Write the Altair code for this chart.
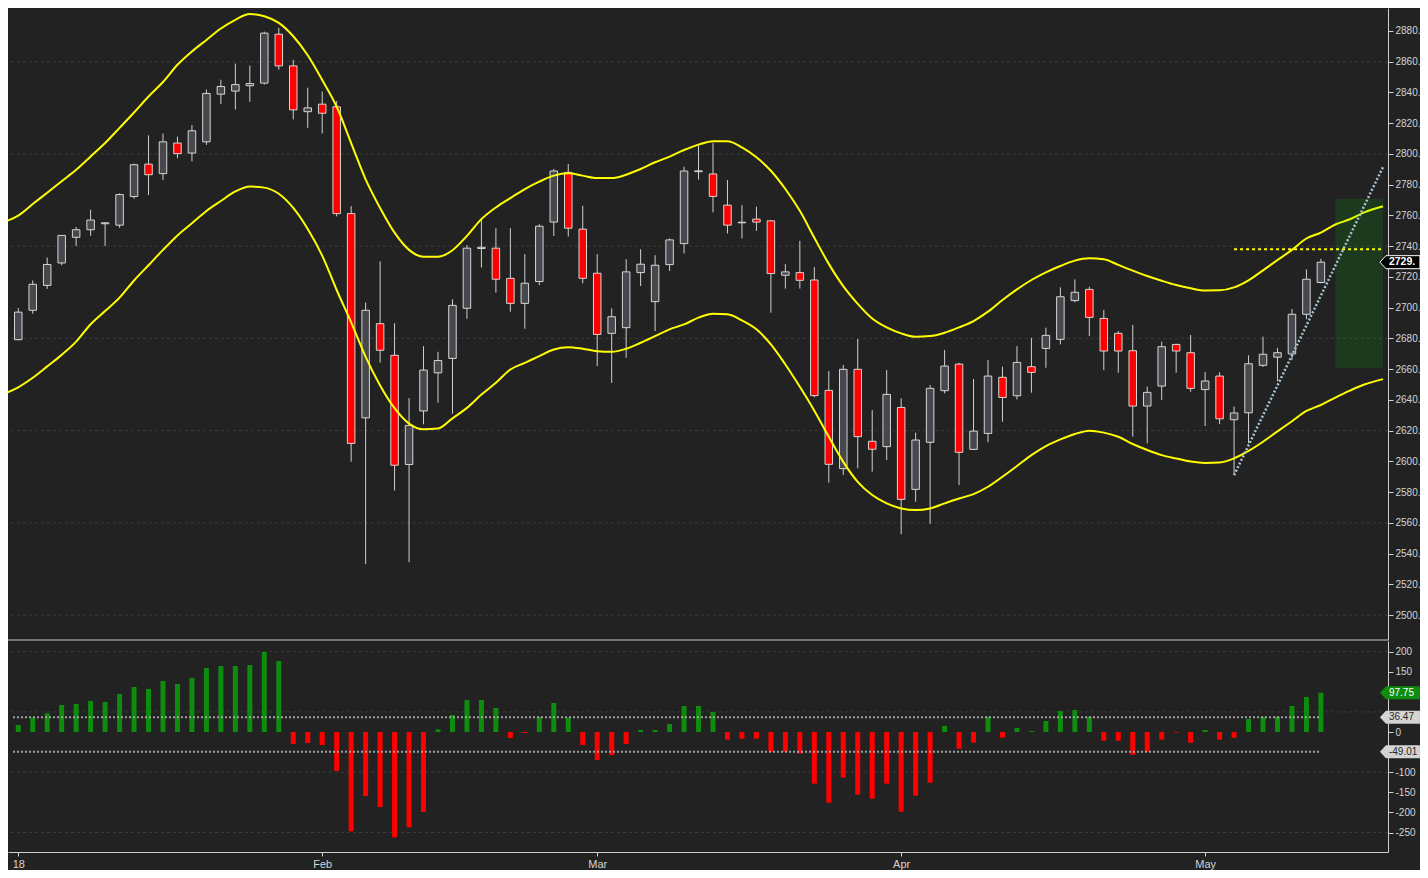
import altair as alt
import pandas as pd

# ---------------- data ----------------
idx = list(range(92))
opens = [2689.2, 2679.2, 2698.3, 2714.5, 2729.1, 2745.8, 2750.7, 2754.6, 2753.7, 2772.3,
         2793.4, 2787.2, 2807.1, 2800.6, 2807.9, 2838.9, 2840.9, 2844.4, 2846.1, 2877.9,
         2857.3, 2827.5, 2832.4, 2830.7, 2761.2, 2628.3, 2689.6, 2669.0, 2598.0, 2632.8,
         2657.6, 2667.0, 2699.6, 2738.5, 2738.7, 2719.1, 2702.8, 2717.0, 2755.7, 2788.0,
         2751.1, 2722.4, 2683.3, 2687.0, 2722.8, 2703.9, 2728.0, 2741.7, 2788.5, 2787.0,
         2766.7, 2755.2, 2757.6, 2756.5, 2721.1, 2722.8, 2718.0, 2646.2, 2595.3, 2659.9,
         2613.1, 2609.6, 2635.1, 2581.8, 2612.4, 2646.0, 2663.3, 2607.8, 2618.2, 2654.7,
         2642.7, 2661.6, 2673.5, 2679.4, 2704.6, 2711.9, 2693.0, 2683.3, 2672.0, 2636.0,
         2649.0, 2676.1, 2670.7, 2646.7, 2655.5, 2627.1, 2631.6, 2662.5, 2667.8, 2669.9,
         2695.7, 2716.4]
highs = [2692.0, 2699.8, 2717.7, 2732.6, 2747.0, 2752.5, 2763.7, 2755.5, 2774.3, 2793.7,
         2812.1, 2813.3, 2811.3, 2818.8, 2841.9, 2848.3, 2858.8, 2857.5, 2879.6, 2882.1,
         2861.2, 2843.1, 2840.6, 2834.4, 2766.1, 2703.3, 2730.1, 2689.9, 2641.2, 2675.0,
         2671.3, 2705.4, 2740.7, 2758.0, 2751.7, 2751.7, 2734.8, 2754.3, 2790.2, 2793.5,
         2766.3, 2734.8, 2699.6, 2731.5, 2738.0, 2734.1, 2745.0, 2791.7, 2805.4, 2807.0,
         2783.0, 2766.7, 2765.7, 2757.0, 2728.3, 2743.5, 2726.4, 2658.8, 2662.7, 2679.6,
         2633.4, 2659.4, 2641.0, 2618.7, 2649.7, 2672.4, 2664.2, 2653.6, 2665.9, 2661.6,
         2675.0, 2680.4, 2687.0, 2713.2, 2718.4, 2713.6, 2698.5, 2684.8, 2688.7, 2648.6,
         2677.9, 2676.5, 2682.2, 2658.2, 2658.0, 2635.7, 2669.0, 2681.1, 2673.9, 2699.1,
         2724.9, 2731.8]
lows = [2678.0, 2678.7, 2696.1, 2712.2, 2727.6, 2740.1, 2746.8, 2740.1, 2752.0, 2770.9,
        2773.3, 2783.0, 2797.2, 2795.2, 2805.9, 2832.4, 2829.0, 2833.9, 2845.1, 2854.8,
        2822.5, 2817.0, 2813.3, 2759.4, 2599.8, 2533.2, 2664.3, 2581.1, 2534.4, 2624.1,
        2638.2, 2631.0, 2692.8, 2726.1, 2709.8, 2697.4, 2686.3, 2714.6, 2746.7, 2746.3,
        2715.9, 2662.0, 2651.1, 2667.4, 2714.1, 2684.8, 2723.9, 2735.2, 2783.3, 2762.0,
        2748.3, 2745.0, 2750.0, 2696.7, 2712.4, 2712.4, 2641.7, 2586.2, 2591.2, 2595.5,
        2593.3, 2600.9, 2552.6, 2573.8, 2559.4, 2644.3, 2584.6, 2607.8, 2612.4, 2625.8,
        2640.3, 2644.7, 2660.9, 2676.1, 2703.5, 2681.5, 2659.4, 2657.7, 2616.1, 2611.7,
        2640.0, 2657.7, 2645.3, 2623.0, 2624.3, 2591.2, 2611.8, 2661.4, 2652.1, 2665.9,
        2692.5, 2715.8]
closes = [2680.0, 2697.1, 2715.2, 2728.1, 2747.0, 2750.7, 2757.0, 2755.2, 2773.6, 2793.0,
          2786.5, 2807.9, 2800.2, 2815.1, 2839.4, 2843.9, 2845.1, 2845.8, 2878.6, 2857.3,
          2828.7, 2830.0, 2826.5, 2761.2, 2611.7, 2698.3, 2672.3, 2597.5, 2623.4, 2659.4,
          2665.6, 2701.5, 2738.7, 2739.3, 2718.5, 2702.8, 2715.9, 2753.0, 2788.9, 2751.7,
          2719.1, 2682.6, 2694.1, 2723.3, 2728.3, 2727.6, 2744.1, 2788.9, 2789.0, 2772.4,
          2753.7, 2755.6, 2755.7, 2722.2, 2723.3, 2717.8, 2642.8, 2598.1, 2659.9, 2616.1,
          2607.9, 2643.6, 2575.3, 2613.9, 2647.5, 2662.0, 2605.9, 2619.7, 2655.5, 2641.6,
          2664.4, 2657.9, 2682.0, 2707.1, 2710.0, 2693.7, 2671.8, 2671.8, 2636.0, 2644.9,
          2674.6, 2671.8, 2647.5, 2652.3, 2627.7, 2631.5, 2663.5, 2669.7, 2670.7, 2695.7,
          2718.5, 2729.6]
hist = [-11.6, 17.4, 35.7, 46.4, 67.2, 69.7, 77.1, 74.6, 94.5, 111.9,
        107.0, 126.9, 119.4, 134.3, 159.2, 164.2, 164.2, 166.7, 199.0, 176.6,
        -29.9, -27.4, -32.3, -97.0, -247.1, -159.2, -186.6, -262.0, -237.1, -199.0,
        6.6, 42.3, 79.6, 79.6, 59.7, -14.9, -2.5, 38.1, 72.1, 35.7,
        -32.3, -69.7, -57.2, -29.9, 5.0, 5.0, 19.9, 64.7, 64.7, 49.8,
        -19.1, -16.6, -16.6, -48.9, -48.9, -53.9, -128.5, -175.8, -113.6, -155.9,
        -165.8, -128.5, -198.2, -158.4, -126.0, 14.9, -41.5, -26.5, 38.1, -14.1,
        10.0, 2.5, 27.4, 52.2, 54.7, 38.1, -21.6, -21.6, -56.4, -48.9,
        -19.1, -1.7, -26.5, 5.0, -19.1, -14.1, 32.3, 38.1, 38.1, 64.7,
        87.1, 97.75]

band_idx = list(range(95)) + [95.29]
upper = [2755.7, 2759.9, 2767.4, 2774.8, 2782.3, 2789.7, 2798.4, 2807.1, 2817.0, 2827.0,
         2837.4, 2846.8, 2858.0, 2866.7, 2874.2, 2881.6, 2887.3, 2891.0, 2889.6, 2885.3,
         2876.6, 2864.2, 2848.1, 2830.7, 2807.1, 2783.5, 2764.9, 2748.8, 2737.6, 2733.1,
         2733.1, 2737.4, 2746.7, 2757.6, 2765.2, 2771.3, 2777.2, 2782.0, 2785.9, 2787.4,
         2785.9, 2784.3, 2784.3, 2786.5, 2790.2, 2794.6, 2798.3, 2802.6, 2806.1, 2808.3,
         2808.3, 2804.3, 2797.8, 2789.1, 2777.2, 2763.0, 2745.5, 2728.5, 2714.0, 2702.5,
         2693.0, 2687.2, 2683.3, 2681.1, 2681.5, 2683.7, 2687.2, 2691.3, 2697.4, 2705.0,
         2711.9, 2718.0, 2723.0, 2727.1, 2730.6, 2732.1, 2731.5, 2727.8, 2724.1, 2720.6,
         2717.5, 2714.7, 2712.6, 2711.2, 2711.3, 2713.2, 2717.8, 2724.3, 2731.0, 2737.6,
         2745.0, 2748.8, 2754.1, 2757.5, 2762.0, 2766.0]
lower = [2644.0, 2648.2, 2654.4, 2661.8, 2669.3, 2677.9, 2689.2, 2697.8, 2706.5, 2717.7,
         2727.6, 2737.6, 2747.0, 2754.9, 2762.9, 2769.4, 2775.6, 2778.8, 2778.1, 2774.1,
         2764.9, 2751.2, 2733.9, 2711.5, 2690.4, 2668.0, 2649.4, 2634.6, 2624.6, 2620.9,
         2621.4, 2628.0, 2634.8, 2643.5, 2651.1, 2659.8, 2664.1, 2668.5, 2672.8, 2674.3,
         2673.3, 2671.7, 2671.3, 2673.3, 2677.2, 2681.5, 2685.9, 2689.1, 2693.5, 2696.1,
         2695.7, 2691.7, 2685.9, 2676.1, 2663.0, 2648.5, 2633.0, 2616.0, 2599.7, 2586.7,
         2578.1, 2572.7, 2569.4, 2568.3, 2569.4, 2572.7, 2575.9, 2578.7, 2583.5, 2590.0,
         2597.0, 2604.1, 2610.0, 2614.3, 2617.8, 2620.0, 2618.7, 2616.0, 2611.3, 2607.4,
         2604.1, 2601.9, 2599.9, 2599.0, 2599.3, 2602.0, 2606.8, 2612.8, 2619.5, 2626.1,
         2632.8, 2636.7, 2641.5, 2646.0, 2650.0, 2653.5]

month_idx = [1, 22, 41, 62, 83]
month_lbl = ["18", "Feb", "Mar", "Apr", "May"]
price_ticks = list(range(2500, 2900, 20))
price_grid = [2500, 2560, 2620, 2680, 2740, 2800, 2860]
hist_ticks = [200, 150, 0, -100, -150, -200, -250]
hist_grid = [200, 50, -100, -250]
hist_levels = [36.47, -49.01]
resist_level = 2738.0
resist_span = [85.0, 95.29]
trend_pts = [(85.0, 2591.0), (95.29, 2791.5)]
proj_box = (92.0, 95.29, 2660.6, 2770.8)
last_price = 2729.6
last_price_txt = "2729."
hist_last = 97.75

# ---------------- scales / styling ----------------
FONT = "Liberation Sans"
AX = "#cfcfcf"
W, H = 1380, 844
X_DOM = [0.637, 95.29]
xs = alt.Scale(domain=X_DOM, nice=False, zero=False)
ys_top = alt.Scale(domain=[2483.8, 2894.96], range=[632, 0], nice=False, zero=False)
ys_bot = alt.Scale(domain=[-298.5, 226.4], range=[844, 633], nice=False, zero=False)

lbl_expr = " : ".join(
    f"datum.value == {v} ? '{t}'" for v, t in zip(month_idx, month_lbl)) + " : ''"
xaxis = alt.Axis(values=month_idx, labelExpr=lbl_expr, title=None, grid=False,
                 domainColor=AX, tickColor=AX, tickSize=4, labelColor="#d4d4d4",
                 labelFont=FONT, labelFontSize=11, labelPadding=2, labelFlush=False)
top_axis = alt.Axis(orient="right", values=price_ticks, labelExpr="datum.value + '.'",
                    title=None, grid=False, domainColor=AX, tickColor=AX, tickSize=5,
                    labelColor="#d4d4d4", labelFont=FONT, labelFontSize=10, labelPadding=2)
bot_axis = alt.Axis(orient="right", values=hist_ticks, labelExpr="'' + datum.value",
                    title=None, grid=False, domainColor=AX, tickColor=AX, tickSize=5,
                    labelColor="#d4d4d4", labelFont=FONT, labelFontSize=10, labelPadding=2)


def X(f):
    # every layer carries the same shared x axis so the merged axis survives
    return alt.X(f, type="quantitative", scale=xs, axis=xaxis)


def YT(f, axis=None):
    return alt.Y(f, type="quantitative", scale=ys_top, axis=axis)


def YB(f, axis=None):
    return alt.Y(f, type="quantitative", scale=ys_bot, axis=axis)


df = pd.DataFrame({"i": idx, "o": opens, "h": highs, "l": lows, "c": closes,
                   "hv": hist, "z": [0] * len(idx)})
bands = pd.DataFrame({"i": band_idx, "u": upper, "lo": lower})

# ---------------- top panel ----------------
grid_top = alt.Chart(pd.DataFrame({"p": price_grid})).mark_rule(
    color="#3b3b3b", strokeDash=[3, 3], strokeWidth=1).encode(y=YT("p", top_axis))

sep = alt.Chart(pd.DataFrame({"p": [2483.8]})).mark_rule(
    color="#c8c8c8", strokeWidth=1).encode(y=YT("p"))

wicks = alt.Chart(df).mark_rule(color="#d0d0d0", strokeWidth=1).encode(
    x=X("i"), y=YT("l"), y2="h:Q")

bodies = alt.Chart(df).mark_bar(size=7.5, stroke="#d6d6d6", strokeWidth=1).encode(
    x=X("i"), y=YT("o"), y2="c:Q",
    fill=alt.condition("datum.c >= datum.o", alt.value("#47474e"), alt.value("#ff0000")))

up_line = alt.Chart(bands).mark_line(color="#ffff00", strokeWidth=2, interpolate="monotone").encode(
    x=X("i"), y=YT("u"))
lo_line = alt.Chart(bands).mark_line(color="#ffff00", strokeWidth=2, interpolate="monotone").encode(
    x=X("i"), y=YT("lo"))

box = alt.Chart(pd.DataFrame({"x1": [proj_box[0]], "x2": [proj_box[1]],
                              "y1": [proj_box[2]], "y2": [proj_box[3]]})).mark_rect(
    color="#00ff00", opacity=0.11).encode(x=X("x1"), x2="x2", y=YT("y1"), y2="y2:Q")

resist = alt.Chart(pd.DataFrame({"x1": [resist_span[0]], "x2": [resist_span[1]],
                                 "p": [resist_level]})).mark_rule(
    color="#ffff00", strokeDash=[3, 3], strokeWidth=2).encode(x=X("x1"), x2="x2", y=YT("p"))

trend = alt.Chart(pd.DataFrame({"x1": [trend_pts[0][0]], "x2": [trend_pts[1][0]],
                                "p1": [trend_pts[0][1]], "p2": [trend_pts[1][1]]})).mark_rule(
    color="#a9c3d2", strokeDash=[2, 2], strokeWidth=2.5).encode(
    x=X("x1"), x2="x2", y=YT("p1"), y2="p2:Q")

TAG = "M-1,0 L-0.7,-0.325 L1,-0.325 L1,0.325 L-0.7,0.325 Z"
TAG_X = 96.46
TXT_X = 95.70
ptag_df = pd.DataFrame({"x": [TAG_X], "tx": [TXT_X], "p": [last_price], "t": [last_price_txt]})
ptag = alt.Chart(ptag_df).mark_point(shape=TAG, size=1600, filled=True, fill="#000000",
                                     stroke="#ffffff", strokeWidth=1, opacity=1).encode(
    x=X("x"), y=YT("p"))
ptxt = alt.Chart(ptag_df).mark_text(align="left", baseline="middle", font=FONT, fontSize=10.5,
                                    fontWeight="bold", color="#ffffff").encode(
    x=X("tx"), y=YT("p"), text="t:N")

# ---------------- bottom panel ----------------
grid_bot = alt.Chart(pd.DataFrame({"v": hist_grid})).mark_rule(
    color="#3b3b3b", strokeDash=[3, 3], strokeWidth=1).encode(y=YB("v", bot_axis))

bars = alt.Chart(df).mark_bar(size=5).encode(
    x=X("i"), y=YB("hv"), y2="z:Q",
    color=alt.condition("datum.hv >= 0", alt.value("#0e8c0e"), alt.value("#ff0000")))

levels = alt.Chart(pd.DataFrame({"x1": [X_DOM[0]] * 2, "x2": [idx[-1]] * 2,
                                 "v": hist_levels})).mark_rule(
    color="#a0a0a0", strokeDash=[2, 2], strokeWidth=2).encode(x=X("x1"), x2="x2", y=YB("v"))

tags = pd.DataFrame({"x": [TAG_X] * 3, "tx": [TXT_X] * 3,
                     "v": [hist_last] + hist_levels,
                     "t": [f"{hist_last:.2f}"] + [f"{v:.2f}" for v in hist_levels]})
htag = alt.Chart(tags).mark_point(shape=TAG, size=1600, filled=True, opacity=1,
                                  strokeWidth=0).encode(
    x=X("x"), y=YB("v"),
    fill=alt.condition(f"datum.v == {hist_last}", alt.value("#0e8c0e"), alt.value("#d4d4d4")))
htxt = alt.Chart(tags).mark_text(align="left", baseline="middle", font=FONT, fontSize=10).encode(
    x=X("tx"), y=YB("v"), text="t:N",
    color=alt.condition(f"datum.v == {hist_last}", alt.value("#ffffff"), alt.value("#262626")))

chart = alt.layer(
    grid_top, grid_bot, sep, wicks, bodies, up_line, lo_line, box, resist, trend,
    bars, levels, ptag, ptxt, htag, htxt,
).resolve_scale(y="independent").properties(
    width=W, height=H,
    autosize=alt.AutoSizeParams(type="none"),
    padding={"left": 0, "top": 0, "right": 32, "bottom": 18},
    background="#222222",
).configure_view(stroke=None)

chart.save("out.html", embed_options={"renderer": "svg", "actions": False})
